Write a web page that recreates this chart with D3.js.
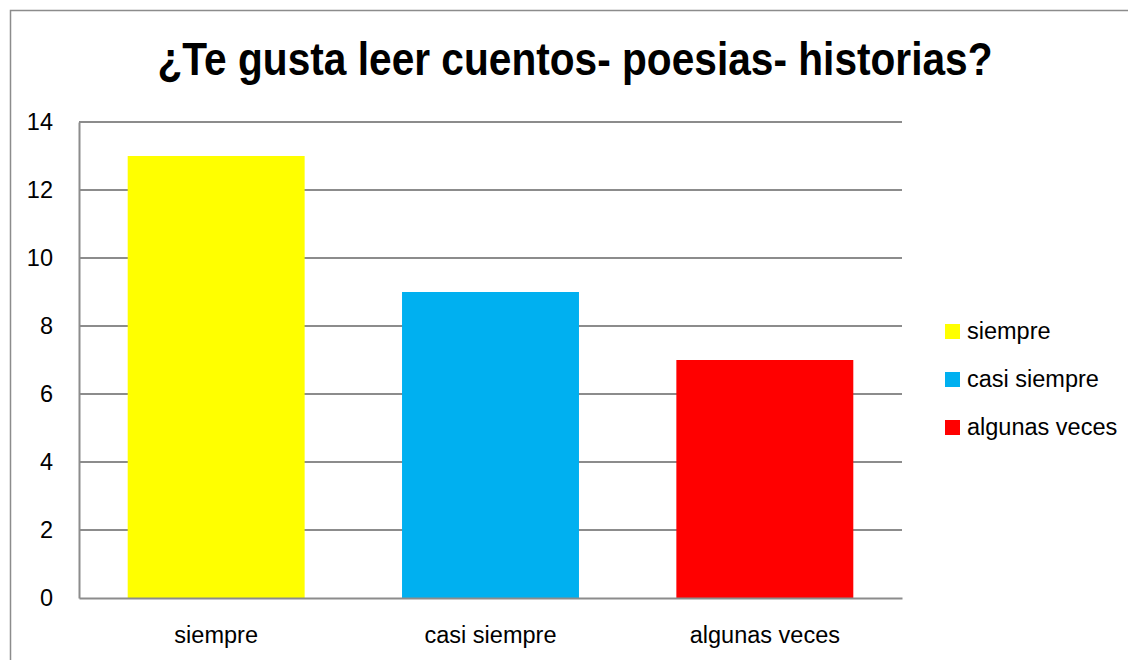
<!DOCTYPE html>
<html>
<head>
<meta charset="utf-8">
<script src="https://cdn.jsdelivr.net/npm/d3@7"></script>
<style>
body{margin:0;background:#fff;}
text{font-family:'Liberation Sans Narrow','Liberation Sans',Arial,sans-serif;fill:#000;}
</style>
</head>
<body>
<script>
const categories=['siempre','casi siempre','algunas veces'];
const values=[13,9,7];
const colors=['#ffff00','#00b0f0','#ff0000'];
const yTicks=[0,2,4,6,8,10,12,14];
const title='¿Te gusta leer cuentos- poesias- historias?';

const width=1128;
const height=660;
const plot={left:79,right:902,top:122,bot:598};
const labelSize='23.5px';

const svg=d3.select('body').append('svg').attr('width',width).attr('height',height);

// outer chart border (runs off the right/bottom edges)
svg.append('rect').attr('x',10.5).attr('y',10.5).attr('width',width).attr('height',height)
    .attr('fill','none').attr('stroke','#8c8c8c').attr('stroke-width',1.5);

// title, squeezed a bit to look like the narrow font of the original
svg.append('text').text(title)
    .attr('transform','translate(575,75) scale(0.865,1)')
    .attr('text-anchor','middle')
    .style('font-size','47px').style('font-weight','bold');

const x=d3.scaleBand().domain(categories).range([plot.left,plot.right]).paddingInner(0.355).paddingOuter(0.1775);
const y=d3.scaleLinear().domain([0,14]).range([plot.bot,plot.top]);

// gridlines
svg.append('g').selectAll('line').data(yTicks.filter(d=>d>0)).enter().append('line')
    .attr('x1',plot.left).attr('x2',plot.right)
    .attr('y1',d=>y(d)).attr('y2',d=>y(d))
    .attr('stroke','#8c8c8c').attr('stroke-width',2);

svg.selectAll('.bar').data(values).enter().append('rect')
    .attr('class','bar')
    .attr('x',(d,i)=>x(categories[i]))
    .attr('width',x.bandwidth())
    .attr('y',d=>y(d))
    .attr('height',d=>y(0)-y(d))
    .attr('fill',(d,i)=>colors[i]);

// axes
const yAxis=d3.axisLeft(y).tickValues(yTicks).tickSize(0).tickPadding(26);
svg.append('g').attr('transform',`translate(${plot.left},0)`).call(yAxis)
    .call(g=>g.select('.domain').attr('stroke','#8c8c8c').attr('stroke-width',2))
    .call(g=>g.selectAll('text').style('font-size',labelSize));

const xAxis=d3.axisBottom(x).tickSize(0).tickPadding(28);
svg.append('g').attr('transform',`translate(0,${plot.bot})`).call(xAxis)
    .call(g=>g.select('.domain').attr('stroke','#8c8c8c').attr('stroke-width',2))
    .call(g=>g.selectAll('text').style('font-size',labelSize));

// legend
const legend=svg.append('g').attr('transform','translate(945,331.5)');
categories.forEach((c,i)=>{
    legend.append('rect').attr('x',0).attr('y',i*48-7.5).attr('width',15).attr('height',15).attr('fill',colors[i]);
    legend.append('text').text(c).attr('x',22).attr('y',i*48+7).style('font-size',labelSize);
});
</script>
</body>
</html>
